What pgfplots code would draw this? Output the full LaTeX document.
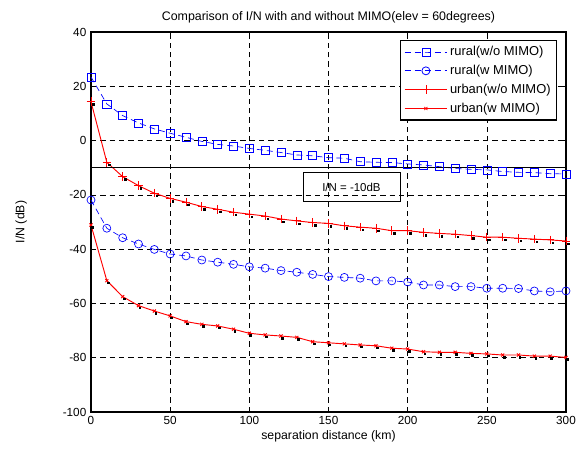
\documentclass[border=0pt]{standalone}
\usepackage{pgfplots}
\pgfplotsset{compat=1.18}
\usepackage{fontspec}
\setmainfont{Liberation Sans}

\pgfplotstableread{
x   ruralwo  ruralw  urbanwo  urbanw
0    23.4   -21.9    14.3   -31.1
10   13.5   -32.3    -8.0   -51.6
20    9.2   -35.8   -13.3   -57.5
30    6.5   -38.1   -16.6   -60.8
40    4.3   -40.1   -19.4   -62.8
50    2.7   -41.8   -21.3   -64.6
60    1.2   -42.5   -22.7   -66.7
70   -0.3   -44.0   -24.3   -67.7
80   -1.4   -44.8   -25.3   -68.3
90   -2.0   -45.6   -26.4   -69.5
100  -2.9   -46.5   -27.1   -71.0
110  -3.6   -47.0   -27.8   -71.6
120  -4.4   -47.9   -28.9   -72.0
130  -5.3   -48.5   -29.6   -72.5
140  -5.6   -49.3   -30.2   -74.1
150  -6.3   -50.1   -30.5   -74.5
160  -6.5   -50.4   -31.4   -74.9
170  -7.8   -50.7   -31.9   -75.3
180  -8.0   -51.7   -32.3   -75.6
190  -8.1   -51.7   -33.2   -76.5
200  -8.6   -52.1   -33.2   -76.8
210  -9.0   -53.2   -33.8   -77.8
220  -9.6   -53.2   -34.2   -78.0
230 -10.3   -53.8   -34.5   -78.0
240 -10.6   -53.8   -35.0   -78.4
250 -10.8   -54.4   -35.6   -78.6
260 -11.4   -54.4   -35.6   -79.0
270 -11.7   -54.5   -36.0   -79.0
280 -11.8   -55.4   -36.3   -79.4
290 -12.2   -55.7   -36.6   -79.4
300 -12.3   -55.4   -37.0   -79.9
}\datatable

\begin{document}
\begin{tikzpicture}
\useasboundingbox (-68.25pt,-28.5pt) rectangle (366.75pt,309pt);
\begin{axis}[
    at={(0,0)}, anchor=south west,
    scale only axis,
    width=356.25pt, height=285pt,
    xmin=0, xmax=300, ymin=-100, ymax=40,
    xtick={0,50,...,300},
    ytick={-100,-80,...,40},
    tick align=inside,
    major tick length=3pt,
    tick style={black, line width=0.4pt},
    axis line style={line width=0.9pt},
    grid=major,
    grid style={black, line width=0.4pt, dash pattern=on 4pt off 3pt},
    ticklabel style={font=\fontsize{8.8}{9}\selectfont},
    /pgf/number format/assume math mode=true,
    xlabel={separation distance (km)},
    ylabel={I/N (dB)},
    xlabel style={font=\fontsize{9.2}{10}\selectfont, yshift=3pt},
    ylabel style={font=\fontsize{9.2}{10}\selectfont, yshift=20pt},
    title={Comparison of I/N with and without MIMO(elev = 60degrees)},
    title style={font=\fontsize{9.3}{10}\selectfont, yshift=-3pt},
    legend style={at={(0.981,0.979)}, anchor=north east,
                  font=\fontsize{9.7}{11}\selectfont,
                  draw=black, line width=0.9pt, fill=white,
                  inner sep=2.5pt, row sep=2pt,
                  nodes={inner sep=1.8pt}},
    legend cell align=left,
    legend image code/.code={
        \draw[mark repeat=2, mark phase=2, line width=0.6pt]
            plot coordinates {(0pt,0pt) (16pt,0pt) (32pt,0pt)};
    },
    clip=false,
]

% rural without MIMO
\addplot[blue, line width=0.5pt, dash pattern=on 4.5pt off 3pt,
         mark=square, mark size=3pt, mark options={solid, draw=blue}]
    table[x=x, y=ruralwo] {\datatable};
\addlegendentry{rural(w/o MIMO)}

% rural with MIMO
\addplot[blue, line width=0.5pt, dash pattern=on 4.5pt off 3pt,
         mark=o, mark size=3pt, mark options={solid, draw=blue}]
    table[x=x, y=ruralw] {\datatable};
\addlegendentry{rural(w MIMO)}

% urban without MIMO
\addplot[red, line width=0.7pt, mark=+, mark size=3.2pt]
    table[x=x, y=urbanwo] {\datatable};
\addlegendentry{urban(w/o MIMO)}

% urban with MIMO
\addplot[red, line width=0.7pt, mark=x, mark size=1.6pt]
    table[x=x, y=urbanw] {\datatable};
\addlegendentry{urban(w MIMO)}

% small black dots beside the red markers
\addplot[only marks, black, mark=square*, mark size=0.6pt,
         mark options={xshift=1.8pt, yshift=-2pt}, forget plot]
    table[x=x, y=urbanwo] {\datatable};
\addplot[only marks, black, mark=square*, mark size=0.6pt,
         mark options={xshift=1pt, yshift=-1.5pt}, forget plot]
    table[x=x, y=urbanw] {\datatable};

% threshold line
\draw[black, line width=1pt] (axis cs:0,-10) -- (axis cs:300,-10);
\node[draw=black, line width=0.6pt, font=\fontsize{8.6}{9}\selectfont,
      minimum width=72.75pt, minimum height=21.75pt, inner sep=2pt]
    at (axis cs:164.5,-17.2) {I/N = -10dB};

\end{axis}
\end{tikzpicture}
\end{document}
